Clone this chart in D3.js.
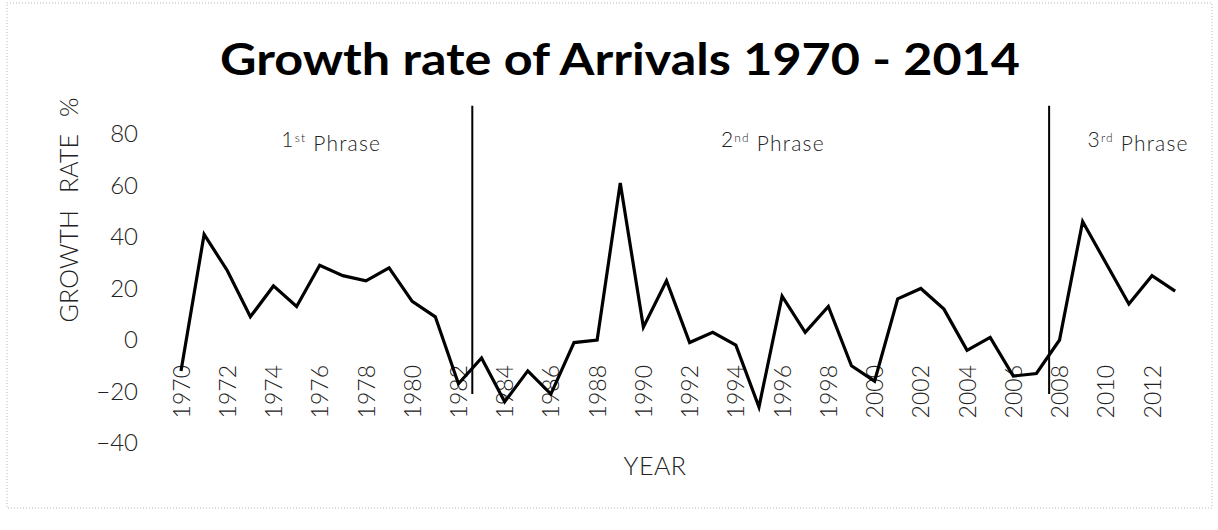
<!DOCTYPE html>
<html>
<head>
<meta charset="utf-8">
<script src="https://cdn.jsdelivr.net/npm/d3@7"></script>
<style>
  body { margin: 0; background: #fff; }
  svg text { font-family: Lato, "Open Sans", "DejaVu Sans", sans-serif; }
</style>
</head>
<body>
<div id="chart"></div>
<script>
// years 1970 - 2013, growth rate of arrivals in %
var years = d3.range(1970, 2014);
var growth = [-12, 41, 27, 9, 21, 13, 29, 25, 23, 28,
              15, 9, -17, -7, -24, -12, -21, -1, 0, 61,
              5, 23, -1, 3, -2, -26, 17, 3, 13, -10,
              -16, 16, 20, 12, -4, 1, -14, -13, 0, 46,
              30, 14, 25, 19];
var yTicks = [-40, -20, 0, 20, 40, 60, 80];
var xTicks = d3.range(1970, 2013, 2);
var phaseBreaks = [1982.6, 2007.55];
var phaseNames = ["1", "2", "3"];
var phaseSups = ["st", "nd", "rd"];
var phaseCenters = [1976.5, 1995.6, 2011.4];

function drawChart() {

    var width = 1218, height = 530;

    var svg = d3.select("#chart")
        .append("svg")
        .attr("width", width)
        .attr("height", height);

    // faint scanned frame
    svg.append("rect")
        .attr("x", 7).attr("y", 3)
        .attr("width", 1205).attr("height", 505)
        .style("fill", "none")
        .style("stroke", "#bbb")
        .style("stroke-width", 1)
        .style("stroke-dasharray", "1,2");

    var x = d3.scaleLinear()
        .domain([1970, 2012])
        .range([181, 1152]);

    var y = d3.scaleLinear()
        .domain([-40, 80])
        .range([443, 134]);

    // title
    svg.append("text")
        .attr("x", 620)
        .attr("y", 75)
        .attr("textLength", 800)
        .attr("lengthAdjust", "spacingAndGlyphs")
        .style("text-anchor", "middle")
        .style("font-family", "Lato, 'Open Sans', sans-serif")
        .style("font-weight", "bold")
        .style("font-size", "44px")
        .style("fill", "#000")
        .text("Growth rate of Arrivals 1970 - 2014");

    // Y axis (labels only)
    var yAxis = svg.append("g")
        .attr("transform", "translate(142,0)")
        .call(d3.axisLeft(y).tickValues(yTicks).tickSize(0).tickPadding(4));
    yAxis.select(".domain").remove();
    yAxis.selectAll("text")
        .style("font-family", "Lato, 'Open Sans', sans-serif")
        .style("font-weight", "300")
        .style("font-size", "24px")
        .style("fill", "#222");

    // X axis (rotated labels only)
    var xAxis = svg.append("g")
        .attr("transform", "translate(0,360)")
        .call(d3.axisBottom(x).tickValues(xTicks).tickSize(0).tickFormat(d3.format("d")));
    xAxis.select(".domain").remove();
    xAxis.selectAll("text")
        .attr("transform", "rotate(-90)")
        .attr("x", -5)
        .attr("y", 0)
        .attr("dy", "0.35em")
        .style("text-anchor", "end")
        .style("font-family", "Lato, 'Open Sans', sans-serif")
        .style("font-weight", "300")
        .style("font-size", "23px")
        .style("fill", "#222");

    // axis titles
    svg.append("text")
        .attr("transform", "rotate(-90)")
        .attr("x", -210)
        .attr("y", 78)
        .attr("textLength", 225)
        .attr("lengthAdjust", "spacing")
        .style("text-anchor", "middle")
        .style("font-weight", "300")
        .style("font-size", "25px")
        .style("fill", "#222")
        .style("word-spacing", "10px")
        .text("GROWTH RATE %");

    svg.append("text")
        .attr("x", 655)
        .attr("y", 475)
        .style("text-anchor", "middle")
        .style("font-weight", "300")
        .style("font-size", "25px")
        .style("letter-spacing", "0.5px")
        .style("fill", "#222")
        .text("YEAR");

    // phase dividers
    svg.append("g")
        .selectAll("line")
        .data(phaseBreaks)
        .enter()
        .append("line")
        .attr("x1", function (d) { return x(d); })
        .attr("x2", function (d) { return x(d); })
        .attr("y1", y(91))
        .attr("y2", y(-21))
        .style("stroke", "#000")
        .style("stroke-width", 2);

    // phase labels
    var labels = svg.append("g")
        .selectAll("text")
        .data(phaseNames)
        .enter()
        .append("text")
        .attr("x", function (d, i) { return x(phaseCenters[i]); })
        .attr("y", 147)
        .style("text-anchor", "middle")
        .style("font-weight", "300")
        .style("font-size", "21px")
        .style("letter-spacing", "1.2px")
        .style("fill", "#222");
    labels.append("tspan").text(function (d) { return d; });
    labels.append("tspan")
        .attr("dy", "-0.45em")
        .style("font-size", "12px")
        .text(function (d, i) { return phaseSups[i]; });
    labels.append("tspan")
        .attr("dy", "0.45em")
        .text(" Phrase");

    // growth line
    var line = d3.line()
        .x(function (d, i) { return x(years[i]); })
        .y(function (d) { return y(d); });

    svg.append("path")
        .datum(growth)
        .attr("d", line)
        .style("fill", "none")
        .style("stroke", "#000")
        .style("stroke-width", 3.2)
        .style("stroke-linejoin", "miter");
}

drawChart();
</script>
</body>
</html>
